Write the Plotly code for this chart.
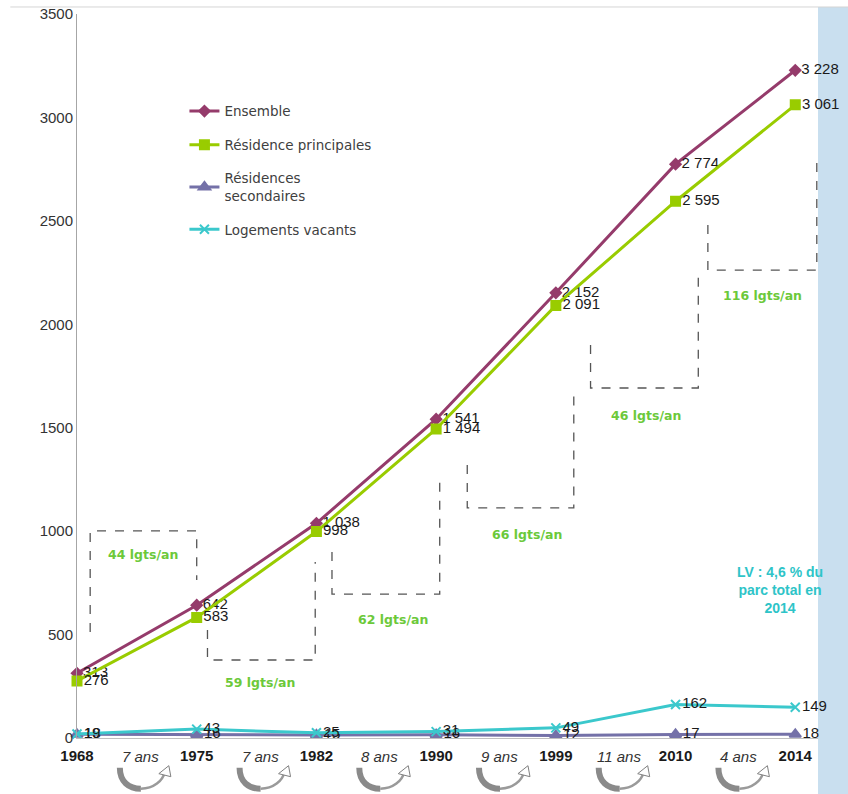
import plotly.graph_objects as go

# données du parc de logements
annees = ["1968", "1975", "1982", "1990", "1999", "2010", "2014"]
ensemble = [313, 642, 1038, 1541, 2152, 2774, 3228]
res_principales = [276, 583, 998, 1494, 2091, 2595, 3061]
res_secondaires = [18, 16, 15, 16, 12, 17, 18]
log_vacants = [19, 43, 25, 31, 49, 162, 149]

durees = ["7 ans", "7 ans", "8 ans", "9 ans", "11 ans", "4 ans"]
rythmes = ["44 lgts/an", "59 lgts/an", "62 lgts/an", "66 lgts/an", "46 lgts/an", "116 lgts/an"]

FONT = "Liberation Sans Narrow, Arial Narrow, Liberation Sans, sans-serif"
VERT = "#6CC93A"


def fmt(v):
    return f"{v:,}".replace(",", " ")


series = [
    ("Ensemble", ensemble, "#953B6B", "diamond", 8),
    ("Résidence principales", res_principales, "#99CC00", "square", 9),
    ("Résidences<br>secondaires", res_secondaires, "#7471A8", "triangle-up", 10),
    ("Logements vacants", log_vacants, "#3BC8CC", "x-thin-open", 9),
]

fig = go.Figure()
for i, (nom, vals, coul, symb, taille) in enumerate(series):
    fig.add_trace(go.Scatter(
        x=annees, y=vals, name=nom, mode="lines+markers+text",
        line=dict(color=coul, width=3),
        marker=dict(symbol=symb, size=taille, color=coul,
                    line=dict(color=coul, width=2)),
        text=[fmt(v) for v in vals], textposition="middle right",
        textfont=dict(family=FONT, size=15, color="#1a1a1a"),
        legendgroup=str(i), cliponaxis=False,
    ))

shapes = []
# bande bleue à droite
shapes.append(dict(type="rect", xref="paper", yref="paper", x0=1.0, x1=1.05,
                   y0=-0.08, y1=1.0097, fillcolor="#C9DFEF", line_width=0, layer="below"))
# fine ligne en haut
shapes.append(dict(type="line", xref="paper", yref="paper", x0=-0.09, x1=1.05,
                   y0=1.0097, y1=1.0097, line=dict(color="#D5D5D5", width=1)))

# crochets pointillés (taux annuels)
crochets = [
    [(0.11, 512), (0.11, 1001), (1.0, 1001), (1.0, 764)],
    [(1.09, 522), (1.09, 377), (1.99, 377), (1.99, 851)],
    [(2.13, 899), (2.13, 696), (3.03, 696), (3.03, 1247)],
    [(3.26, 1320), (3.26, 1112), (4.15, 1112), (4.15, 1658)],
    [(4.29, 1900), (4.29, 1692), (5.19, 1692), (5.19, 2238)],
    [(5.27, 2480), (5.27, 2262), (6.18, 2262), (6.18, 2809)],
]
for pts in crochets:
    p = "M " + " L ".join(f"{x},{y}" for x, y in pts)
    shapes.append(dict(type="path", xref="x", yref="y", path=p,
                       line=dict(color="#555555", width=1.3, dash="dash")))

# flèches courbes entre les recensements
fleche = dict(type="path", xref="x", yref="paper", xsizemode="pixel",
              ysizemode="pixel", yanchor=-0.041)
for k in range(len(durees)):
    shapes.append(dict(fleche, xanchor=k + 0.5,
                       path="M -17,0 C -17,-14 -8,-21 4,-21",
                       line=dict(color="#8A8A8A", width=6)))
    shapes.append(dict(fleche, xanchor=k + 0.5,
                       path="M 4,-21 C 17,-21 26,-13 28,-4",
                       line=dict(color="#9A9A9A", width=2.5)))
    shapes.append(dict(fleche, xanchor=k + 0.5,
                       path="M 22,-6 L 32,2 L 34,-9 Z",
                       fillcolor="white", line=dict(color="#808080", width=1)))

annotations = []
pos_rythmes = [(0.55, 889), (1.53, 266), (2.64, 575), (3.76, 986), (4.75, 1561), (5.73, 2137)]
for txt, (x, y) in zip(rythmes, pos_rythmes):
    annotations.append(dict(x=x, y=y, xref="x", yref="y", text=f"<b>{txt}</b>",
                            showarrow=False, font=dict(family="DejaVu Sans", size=12.5, color=VERT)))

for k, d in enumerate(durees):
    annotations.append(dict(x=k + 0.53, y=-0.026, xref="x", yref="paper", yanchor="middle",
                            text=f"<i>{d}</i>", showarrow=False,
                            font=dict(family=FONT, size=15, color="#333333")))

annotations.append(dict(x=5.87, y=715, xref="x", yref="y",
                        text="<b>LV : 4,6 % du<br>parc total en<br>2014</b>",
                        showarrow=False, align="center",
                        font=dict(family="Liberation Sans, Arial", size=14, color="#2EC4C8")))

fig.update_layout(
    width=848, height=794,
    margin=dict(l=77, r=30, t=14, b=56),
    plot_bgcolor="white", paper_bgcolor="white",
    showlegend=True,
    legend=dict(x=0.145, y=0.887, xanchor="left", yanchor="top",
                font=dict(family="DejaVu Sans", size=13.5, color="#404040"),
                tracegroupgap=13, bgcolor="rgba(0,0,0,0)"),
    shapes=shapes,
    annotations=annotations,
)
fig.update_xaxes(type="category", range=[0, 6.19], showgrid=False, automargin=False,
                 showline=True, linecolor="#BFBFBF", ticks="", ticklabelstandoff=4,
                 tickfont=dict(family=FONT, size=15, color="#1a1a1a"),
                 tickprefix="<b>", ticksuffix="</b>")
fig.update_yaxes(range=[0, 3500], dtick=500, showgrid=False, zeroline=False, automargin=False,
                 showline=True, linecolor="#A6A6A6", ticks="",
                 tickfont=dict(family=FONT, size=15, color="#333333"))

fig.write_html("out.html", config={"displayModeBar": False},
               post_script="document.body.style.margin='0';")
